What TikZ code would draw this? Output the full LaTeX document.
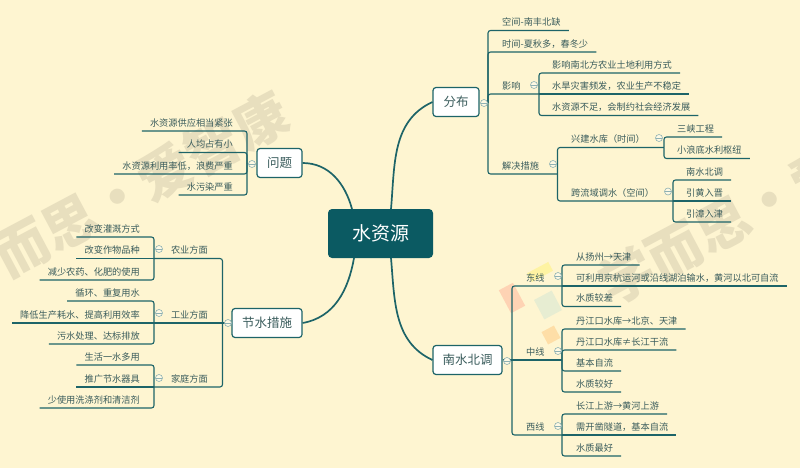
\documentclass[tikz,border=0pt]{standalone}
\usepackage{fontspec}
\setmainfont{Noto Sans CJK SC}
\definecolor{paper}{HTML}{FEF5D1}
\definecolor{teal1}{HTML}{0B5A62}
\definecolor{teal2}{HTML}{1D6468}
\definecolor{ink}{HTML}{3A5C5C}
\definecolor{mark}{HTML}{E8DFBE}

\begin{document}
\begin{tikzpicture}[x=1pt, y=-1pt]
	\tikzstyle{mainbox}=[fill=teal1, rounded corners=4pt, minimum width=105pt, minimum height=49pt, text=white, font=\fontsize{19}{22}\selectfont];
	\tikzstyle{topic}=[draw=teal2, line width=1.2pt, fill=white, rounded corners=3pt, minimum height=29pt, inner xsep=0pt, text=ink, font=\fontsize{12.5}{15}\selectfont];
	\tikzstyle{leaf}=[minimum height=16pt, inner ysep=0pt, inner xsep=8pt, text=ink, font=\fontsize{9.2}{11}\selectfont];
	\tikzstyle{leafr}=[leaf, anchor=south west];
	\tikzstyle{leafl}=[leaf, anchor=south east];
	\tikzstyle{branch}=[draw=teal2, line width=1.1pt, rounded corners=2.5pt];
	\tikzstyle{trunk}=[draw=teal2, line width=1.7pt];
	\tikzstyle{toggle}=[circle, draw=teal2!50, fill=paper!60!white, line width=.6pt, minimum size=7pt, inner sep=0pt, path picture={\draw[teal2!50, line width=.4pt] (path picture bounding box.west) -- (path picture bounding box.east);}];
	\tikzstyle{wmark}=[text=mark, rotate=28, font=\fontsize{54}{60}\selectfont\bfseries];

	\useasboundingbox (0,0) rectangle (800,468);
	\clip (0,0) rectangle (800,468);
	\fill[paper] (0,0) rectangle (800,468);

	% watermark
	\node[wmark, anchor=west] (wm1) at (-5,262) {而思·爱智康};
	\node[wmark, anchor=west] (wm2) at (600,290) {学而思·爱};
	\fill[red!14!paper, rotate around={28:(512,298)}] (504,285) rectangle (520,311);
	\fill[yellow!22!paper, rotate around={28:(540,272)}] (528,267) rectangle (552,277);
	\fill[cyan!9!paper, rotate around={28:(548,305)}] (538,294) rectangle (558,316);
	\fill[orange!20!paper, rotate around={28:(551,335)}] (544,328) rectangle (558,342);

	% centre and topics
	\node[mainbox] (water) at (380.5,233.5) {水资源};
	\node[topic, minimum width=46pt] (fenbu) at (456,102) {分布};
	\node[topic, minimum width=69pt] (nanbei) at (467.5,360) {南水北调};
	\node[topic, minimum width=45pt] (wenti) at (279.5,163) {问题};
	\node[topic, minimum width=70pt] (jieshui) at (267,323) {节水措施};

	\coordinate (w1) at (352,209);
	\coordinate (w2) at (391,209);
	\coordinate (w3) at (354,258);
	\coordinate (w4) at (391,258);
	\draw[trunk] (w2) edge[out=85, in=205] (fenbu.west);
	\draw[trunk] (w4) edge[out=-85, in=155] (nanbei.west);
	\draw[trunk] (wenti.east) edge[out=0, in=105] (w1);
	\draw[trunk] (jieshui.east) edge[out=10, in=-100] (w3);

	% distribution
	\coordinate (fb) at (488,103);
	\coordinate (yx) at (539,94);
	\coordinate (jj) at (557.5,174);
	\coordinate (xj) at (664,147.5);
	\coordinate (kl) at (673,201);
	\node[leafr] (kongjian) at (494,30.5) {空间-南丰北缺};
	\node[leafr] (shijian) at (494,52) {时间-夏秋多，春冬少};
	\node[leafr] (yingxiang) at (494,94) {影响};
	\node[leafr] (jiejue) at (494,174) {解决措施};
	\node[leafr] (tudi) at (544,73) {影响南北方农业土地利用方式};
	\node[leafr] (shuihan) at (544,94) {水旱灾害频发，农业生产不稳定};
	\node[leafr] (buzu) at (544,115.5) {水资源不足，会制约社会经济发展};
	\node[leafr] (xingjian) at (563,147.5) {兴建水库（时间）};
	\node[leafr] (kualiu) at (563,201) {跨流域调水（空间）};
	\node[leafr] (sanxia) at (669,137) {三峡工程};
	\node[leafr] (xiaolang) at (669,158.5) {小浪底水利枢纽};
	\node[leafr] (nanshui) at (678,180) {南水北调};
	\node[leafr] (yinhuang) at (678,201) {引黄入晋};
	\node[leafr] (yinzhang) at (678,222) {引漳入津};

	\draw[branch] (fb) |- (kongjian.south east);
	\draw[branch] (fb) |- (shijian.south east);
	\draw[branch] (fb) |- (yx);
	\draw[branch] (fb) |- (jj);
	\draw[branch] (yx) |- (tudi.south east);
	\draw[branch] (yx) -- (shuihan.south east);
	\draw[branch] (yx) |- (buzu.south east);
	\draw[branch] (jj) |- (xj);
	\draw[branch] (jj) |- (kl);
	\draw[branch] (xj) |- (sanxia.south east);
	\draw[branch] (xj) |- (xiaolang.south east);
	\draw[branch] (kl) |- (nanshui.south east);
	\draw[branch] (kl) -- (yinhuang.south east);
	\draw[branch] (kl) |- (yinzhang.south east);

	\node[toggle] (t1) at (484,103) {};
	\node[toggle] (t2) at (534,85) {};
	\node[toggle] (t3) at (553,164) {};
	\node[toggle] (t4) at (659,138) {};
	\node[toggle] (t5) at (668,191.5) {};

	% south-north transfer
	\coordinate (nb) at (512,360);
	\coordinate (dx) at (562,286);
	\coordinate (zx) at (562,360);
	\coordinate (xx) at (562,435);
	\node[leafr] (dong) at (518,286) {东线};
	\node[leafr] (zhong) at (518,360) {中线};
	\node[leafr] (xi) at (518,435) {西线};
	\node[leafr] (yangzhou) at (568,265) {从扬州→天津};
	\node[leafr] (jinghang) at (568,286) {可利用京杭运河或沿线湖泊输水，黄河以北可自流};
	\node[leafr] (jiaocha) at (568,306.5) {水质较差};
	\node[leafr] (danjiang) at (568,329) {丹江口水库→北京、天津};
	\node[leafr] (ganliu) at (568,350) {丹江口水库≠长江干流};
	\node[leafr] (ziliu) at (568,371) {基本自流};
	\node[leafr] (jiaohao) at (568,392) {水质较好};
	\node[leafr] (changjiang) at (568,414) {长江上游→黄河上游};
	\node[leafr] (suidao) at (568,435) {需开凿隧道，基本自流};
	\node[leafr] (zuihao) at (568,456) {水质最好};

	\draw[branch] (nanbei.east) -- (zx);
	\draw[branch] (nb) |- (dx);
	\draw[branch] (nb) |- (xx);
	\draw[branch] (dx) |- (yangzhou.south east);
	\draw[branch] (dx) -- (jinghang.south east);
	\draw[branch] (dx) |- (jiaocha.south east);
	\draw[branch] (zx) |- (danjiang.south east);
	\draw[branch] (zx) |- (ganliu.south east);
	\draw[branch] (zx) |- (ziliu.south east);
	\draw[branch] (zx) |- (jiaohao.south east);
	\draw[branch] (xx) |- (changjiang.south east);
	\draw[branch] (xx) -- (suidao.south east);
	\draw[branch] (xx) |- (zuihao.south east);

	\node[toggle] (t6) at (507,361) {};
	\node[toggle] (t7) at (558,276) {};
	\node[toggle] (t8) at (558,351) {};
	\node[toggle] (t9) at (558,426) {};

	% problems
	\coordinate (wt) at (247,163);
	\node[leafl] (jinzhang) at (241,131) {水资源供应相当紧张};
	\node[leafl] (renjun) at (241,152.5) {人均占有小};
	\node[leafl] (langfei) at (241,174) {水资源利用率低，浪费严重};
	\node[leafl] (wuran) at (241,195) {水污染严重};

	\draw[branch] (wt) |- (jinzhang.south west);
	\draw[branch] (wt) |- (renjun.south west);
	\draw[branch] (wt) |- (langfei.south west);
	\draw[branch] (wt) |- (wuran.south west);

	\node[toggle] (t10) at (252,164) {};

	% saving measures
	\coordinate (js) at (222.5,323);
	\coordinate (ny) at (154,258.5);
	\coordinate (gy) at (154,323);
	\coordinate (jt) at (154,387);
	\node[leafl] (nongye) at (216,258.5) {农业方面};
	\node[leafl] (gongye) at (216,323) {工业方面};
	\node[leafl] (jiating) at (216,387) {家庭方面};
	\node[leafl] (guangai) at (148,237) {改变灌溉方式};
	\node[leafl] (zuowu) at (148,258.5) {改变作物品种};
	\node[leafl] (nongyao) at (148,280) {减少农药、化肥的使用};
	\node[leafl] (xunhuan) at (148,301) {循环、重复用水};
	\node[leafl] (haoshui) at (148,323) {降低生产耗水、提高利用效率};
	\node[leafl] (wushui) at (148,344) {污水处理、达标排放};
	\node[leafl] (shenghuo) at (148,365) {生活一水多用};
	\node[leafl] (qiju) at (148,387) {推广节水器具};
	\node[leafl] (xidi) at (148,408) {少使用洗涤剂和清洁剂};

	\draw[branch] (jieshui.west) -- (gy);
	\draw[branch] (js) |- (ny);
	\draw[branch] (js) |- (jt);
	\draw[branch] (ny) |- (guangai.south west);
	\draw[branch] (ny) -- (zuowu.south west);
	\draw[branch] (ny) |- (nongyao.south west);
	\draw[branch] (gy) |- (xunhuan.south west);
	\draw[branch] (gy) -- (haoshui.south west);
	\draw[branch] (gy) |- (wushui.south west);
	\draw[branch] (jt) |- (shenghuo.south west);
	\draw[branch] (jt) -- (qiju.south west);
	\draw[branch] (jt) |- (xidi.south west);

	\node[toggle] (t11) at (228,323) {};
	\node[toggle] (t12) at (159,249) {};
	\node[toggle] (t13) at (159,313) {};
	\node[toggle] (t14) at (159,378) {};
\end{tikzpicture}
\end{document}
